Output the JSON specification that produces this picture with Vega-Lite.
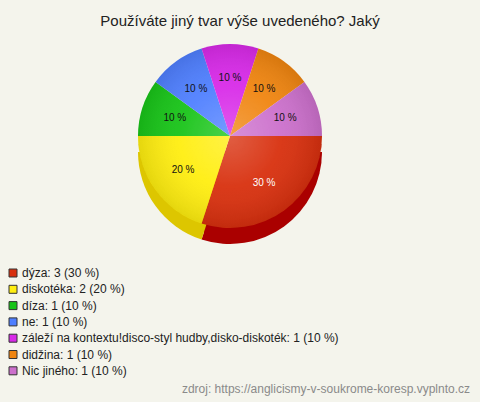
{
  "$schema": "https://vega.github.io/schema/vega-lite/v6.json",
  "width": 460,
  "height": 192,
  "autosize": {"type": "none"},
  "padding": {"left": 0, "top": 40, "right": 20, "bottom": 170},
  "background": "#f4f4ec",
  "config": {
    "view": {"stroke": null},
    "font": "Liberation Sans",
    "legend": {
      "orient": "none",
      "legendX": 7,
      "legendY": 227,
      "symbolType": "square",
      "symbolSize": 64,
      "symbolStrokeColor": "#333333",
      "symbolStrokeWidth": 1,
      "labelFont": "Liberation Sans",
      "labelFontSize": 12,
      "labelColor": "#222222",
      "labelOffset": 3,
      "labelLimit": 450,
      "rowPadding": 4.3
    }
  },
  "title": {
    "text": "Používáte jiný tvar výše uvedeného? Jaký",
    "font": "Liberation Sans",
    "fontSize": 15,
    "fontWeight": "normal",
    "color": "#222222",
    "offset": 11,
    "dx": 10
  },
  "datasets": {
    "answers": [
      {"answer": "dýza", "count": 3, "label": "dýza: 3 (30 %)", "pct": "30 %"},
      {"answer": "diskotéka", "count": 2, "label": "diskotéka: 2 (20 %)", "pct": "20 %"},
      {"answer": "díza", "count": 1, "label": "díza: 1 (10 %)", "pct": "10 %"},
      {"answer": "ne", "count": 1, "label": "ne: 1 (10 %)", "pct": "10 %"},
      {"answer": "záleží na kontextu!disco-styl hudby,disko-diskoték", "count": 1, "label": "záleží na kontextu!disco-styl hudby,disko-diskoték: 1 (10 %)", "pct": "10 %"},
      {"answer": "didžina", "count": 1, "label": "didžina: 1 (10 %)", "pct": "10 %"},
      {"answer": "Nic jiného", "count": 1, "label": "Nic jiného: 1 (10 %)", "pct": "10 %"}
    ]
  },
  "data": {"name": "answers"},
  "transform": [{"window": [{"op": "row_number", "as": "i"}]}],
  "layer": [
    {
      "mark": {"type": "arc", "radius": 92, "yOffset": 8},
      "encoding": {
        "theta": {"field": "count", "type": "quantitative", "stack": true, "scale": {"range": [1.5708, 7.854]}},
        "order": {"field": "i", "type": "quantitative"},
        "color": {
          "field": "label",
          "type": "nominal",
          "scale": {
            "domain": ["dýza: 3 (30 %)", "diskotéka: 2 (20 %)", "díza: 1 (10 %)", "ne: 1 (10 %)", "záleží na kontextu!disco-styl hudby,disko-diskoték: 1 (10 %)", "didžina: 1 (10 %)", "Nic jiného: 1 (10 %)"],
            "range": ["#aa0000", "#ddc600", "#f4f4ec", "#f4f4ec", "#f4f4ec", "#f4f4ec", "#f4f4ec"]
          },
          "legend": null
        }
      }
    },
    {
      "mark": {"type": "arc", "radius": 92, "yOffset": 16},
      "encoding": {
        "theta": {"field": "count", "type": "quantitative", "stack": true, "scale": {"range": [1.5708, 7.854]}},
        "order": {"field": "i", "type": "quantitative"},
        "color": {
          "field": "label",
          "type": "nominal",
          "scale": {
            "domain": ["dýza: 3 (30 %)", "diskotéka: 2 (20 %)", "díza: 1 (10 %)", "ne: 1 (10 %)", "záleží na kontextu!disco-styl hudby,disko-diskoték: 1 (10 %)", "didžina: 1 (10 %)", "Nic jiného: 1 (10 %)"],
            "range": ["#aa0000", "#ddc600", "#f4f4ec", "#f4f4ec", "#f4f4ec", "#f4f4ec", "#f4f4ec"]
          },
          "legend": null
        }
      }
    },
    {
      "mark": {"type": "arc", "radius": 92},
      "encoding": {
        "theta": {"field": "count", "type": "quantitative", "stack": true, "scale": {"range": [1.5708, 7.854]}},
        "order": {"field": "i", "type": "quantitative"},
        "color": {
          "field": "label",
          "type": "nominal",
          "scale": {
            "domain": ["dýza: 3 (30 %)", "diskotéka: 2 (20 %)", "díza: 1 (10 %)", "ne: 1 (10 %)", "záleží na kontextu!disco-styl hudby,disko-diskoték: 1 (10 %)", "didžina: 1 (10 %)", "Nic jiného: 1 (10 %)"],
            "range": ["#d8300e", "#ffee10", "#18c418", "#4f7fff", "#d82ae8", "#f08510", "#cc70cc"]
          },
          "legend": {"title": null}
        }
      }
    },
    {
      "data": {"values": [{"shade": "pie"}]},
      "mark": {
        "type": "arc",
        "radius": 92,
        "theta": 0,
        "theta2": 6.2832,
        "color": {
          "gradient": "radial",
          "x1": 0.5, "y1": 0.5, "r1": 0,
          "x2": 0.5, "y2": 0.5, "r2": 0.5,
          "stops": [
            {"offset": 0, "color": "rgba(255,255,255,0.22)"},
            {"offset": 0.55, "color": "rgba(255,255,255,0.05)"},
            {"offset": 1, "color": "rgba(0,0,0,0.1)"}
          ]
        }
      },
      "encoding": {}
    },
    {
      "mark": {"type": "text", "radius": 58, "fontSize": 10, "font": "Liberation Sans"},
      "encoding": {
        "theta": {"field": "count", "type": "quantitative", "stack": true, "scale": {"range": [1.5708, 7.854]}},
        "order": {"field": "i", "type": "quantitative"},
        "text": {"field": "pct", "type": "nominal"},
        "color": {"condition": {"test": "datum.count >= 3", "value": "#ffffff"}, "value": "#111111"}
      }
    },
    {
      "data": {"values": [{"src": "zdroj: https://anglicismy-v-soukrome-koresp.vyplnto.cz"}]},
      "mark": {"type": "text", "align": "right", "baseline": "middle", "dx": 10, "dy": 157, "fontSize": 12, "font": "Liberation Sans", "color": "#8a8a8a"},
      "encoding": {
        "x": {"value": "width"},
        "y": {"value": "height"},
        "text": {"field": "src", "type": "nominal"}
      }
    }
  ],
  "resolve": {"scale": {"color": "independent"}}
}
